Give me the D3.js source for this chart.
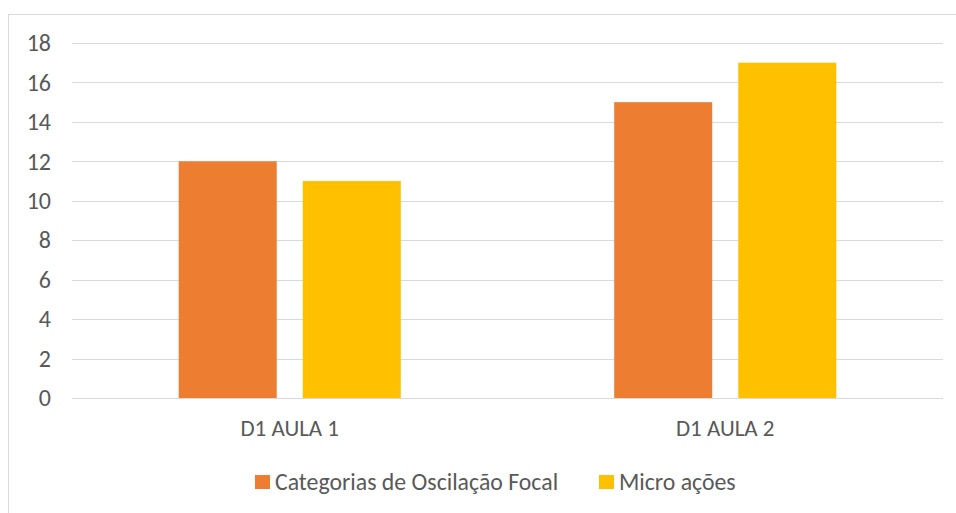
<!DOCTYPE html>
<html>
<head>
<meta charset="utf-8">
<script src="https://cdn.jsdelivr.net/npm/d3@7"></script>
<style>
  html, body { margin: 0; padding: 0; background: #fff; }
  svg { display: block; }
  text { font-family: Carlito, Calibri, Lato, "Open Sans", sans-serif; fill: #595959; }
</style>
</head>
<body>
<svg id="chart" width="956" height="513"></svg>
<script>
// Categories, series and values
const categories = ["D1 AULA 1", "D1 AULA 2"];
const seriesNames = ["Categorias de Oscilação Focal", "Micro ações"];
const seriesColors = ["#ED7D31", "#FFC000"];
const oscilacaoFocal = [12, 15];
const microAcoes = [11, 17];
const yTicks = [0, 2, 4, 6, 8, 10, 12, 14, 16, 18];

const seriesValues = [oscilacaoFocal, microAcoes];
const rows = categories.map((c, i) => ({
  category: c,
  values: seriesNames.map((s, j) => ({ series: s, value: seriesValues[j][i], color: seriesColors[j] }))
}));

const fontStack = "Carlito, Calibri, Lato, 'Open Sans', sans-serif";
const svg = d3.select("#chart");
const plot = { left: 72, right: 943, top: 43, bottom: 398 };

// Chart frame
svg.append("rect")
  .attr("x", 8.5).attr("y", 14.5)
  .attr("width", 960).attr("height", 520)
  .attr("fill", "none").attr("stroke", "#d9d9d9").attr("stroke-width", 1);

const y = d3.scaleLinear().domain([0, 18]).range([plot.bottom, plot.top]);
const x0 = d3.scaleBand().domain(categories).range([plot.left, plot.right]).padding(0);
const groupWidth = x0.bandwidth() * 0.51;
const x1 = d3.scaleBand().domain(seriesNames).range([0, groupWidth]).paddingInner(0.21).paddingOuter(0);

// Gridlines
svg.append("g")
  .selectAll("line")
  .data(yTicks)
  .join("line")
  .attr("x1", plot.left).attr("x2", plot.right)
  .attr("y1", d => Math.round(y(d)) + 0.5).attr("y2", d => Math.round(y(d)) + 0.5)
  .attr("stroke", "#d9d9d9").attr("stroke-width", 1);

// Y axis labels
const yAxis = d3.axisLeft(y).tickValues(yTicks).tickSize(0).tickPadding(0);
const yg = svg.append("g").attr("transform", `translate(51,0)`).call(yAxis);
yg.select(".domain").remove();
yg.selectAll("text").attr("font-size", 24).attr("fill", "#595959")
  .style("font-family", fontStack);

// Bars
const groups = svg.append("g").selectAll("g")
  .data(rows)
  .join("g")
  .attr("transform", d => `translate(${x0(d.category) + (x0.bandwidth() - groupWidth) / 2},0)`);

groups.selectAll("rect")
  .data(d => d.values)
  .join("rect")
  .attr("x", d => x1(d.series))
  .attr("width", x1.bandwidth())
  .attr("y", d => y(d.value))
  .attr("height", d => y(0) - y(d.value))
  .attr("fill", d => d.color);

// X axis labels
const xAxis = d3.axisBottom(x0).tickSize(0).tickPadding(0);
const xg = svg.append("g").attr("transform", `translate(0,${plot.bottom + 22})`).call(xAxis);
xg.select(".domain").remove();
xg.selectAll("text").attr("font-size", 23).attr("fill", "#595959")
  .style("font-family", fontStack);

// Legend
const legendX = [255, 599];
const legend = svg.append("g").selectAll("g")
  .data(seriesNames)
  .join("g")
  .attr("transform", (d, i) => `translate(${legendX[i]},475)`);
legend.append("rect")
  .attr("width", 15).attr("height", 14)
  .attr("fill", (d, i) => seriesColors[i]);
legend.append("text")
  .attr("x", 20).attr("y", 7).attr("dy", "0.35em")
  .attr("font-size", 23.8)
  .text(d => d);
</script>
</body>
</html>
